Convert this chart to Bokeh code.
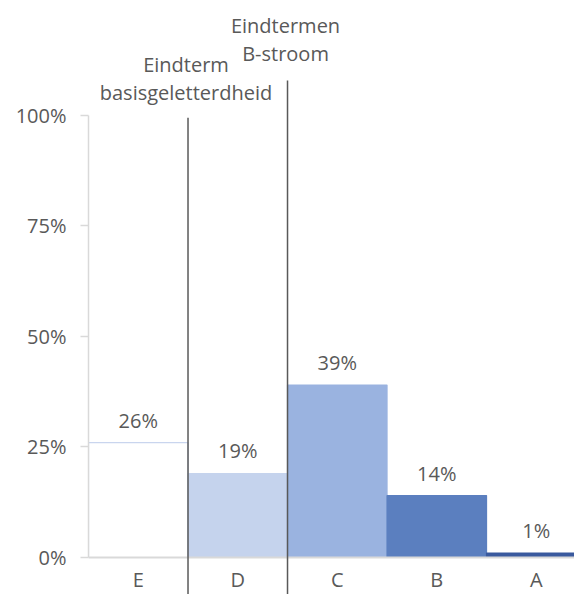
from bokeh.plotting import figure
from bokeh.models import Range1d, LinearAxis, FixedTicker, PrintfTickFormatter, ColumnDataSource
from bokeh.core.properties import value
from bokeh.embed import file_html
from bokeh.resources import INLINE

# ---- data ----
categories = ["E", "D", "C", "B", "A"]
values = [26, 19, 39, 14, 1]
value_labels = ["26%", "19%", "39%", "14%", "1%"]
y_ticks = [0, 25, 50, 75, 100]
divider_positions = [1, 2]          # boundaries E|D and D|C (category index)
divider_tops = [99.5, 107.9]
annot_lines = [["Eindterm", "basisgeletterdheid"], ["Eindtermen", "B-stroom"]]
annot_centers = [[111.5, 105.3], [120.25, 114.1]]

# ---- style ----
FONT = "Open Sans"
TXT = "#595959"
GRID = "#d9d9d9"
fills = ["#ffffff", "#c5d3ed", "#9ab3e0", "#5b7fbf", "#3a5a9e"]
lines = ["#c9d5ee", "#c5d3ed", "#9ab3e0", "#5b7fbf", "#3a5a9e"]
FS = "20px"
LABEL_GAP = 5.1
CAT_Y = -4.9

X1 = 4.884
Y0, Y1 = -8.37, 126.0
p = figure(width=574, height=594, output_backend="svg", toolbar_location=None,
           x_range=Range1d(0, X1), y_range=Range1d(Y0, Y1),
           min_border_left=88, min_border_right=0, min_border_top=0, min_border_bottom=0,
           x_axis_type=None, y_axis_type=None)
p.outline_line_color = None
p.xgrid.visible = False
p.ygrid.visible = False
p.background_fill_color = "white"
p.border_fill_color = "white"

yax = LinearAxis(bounds=(0, 100), ticker=FixedTicker(ticks=y_ticks),
                 formatter=PrintfTickFormatter(format="%d%%"))
yax.axis_line_color = GRID
yax.axis_line_width = 1.5
yax.major_tick_line_color = GRID
yax.major_tick_line_width = 1.5
yax.major_tick_out = 8
yax.major_tick_in = 0
yax.minor_tick_line_color = None
yax.major_label_standoff = 14
yax.major_label_text_font = FONT
yax.major_label_text_font_size = FS
yax.major_label_text_color = TXT
p.add_layout(yax, "left")

xs = [i + 0.5 for i in range(len(categories))]
src = ColumnDataSource(dict(x=xs, top=values, fill=fills, line=lines, lab=value_labels,
                            laby=[v + LABEL_GAP for v in values], cat=categories))

p.vbar(x="x", top="top", bottom=0, width=1.0, source=src, fill_color="fill",
       line_color="line", line_width=1.2)

# baseline
p.segment(x0=[0], y0=[0], x1=[X1], y1=[0], line_color=GRID, line_width=2)

# value labels
p.text(x="x", y="laby", text="lab", source=src, text_align="center", text_baseline="middle",
       text_font=value(FONT), text_font_size=FS, text_color=TXT)

# category labels
p.text(x=xs, y=[CAT_Y] * len(xs), text=categories, text_align="center", text_baseline="middle",
       text_font=value(FONT), text_font_size=FS, text_color=TXT)

# dividers
p.segment(x0=divider_positions, y0=[Y0] * 2, x1=divider_positions, y1=divider_tops,
          line_color="#595959", line_width=1.5)

# annotations
for xpos, texts, cents in zip(divider_positions, annot_lines, annot_centers):
    p.text(x=[xpos - 0.02] * len(texts), y=cents, text=texts, text_align="center",
           text_baseline="middle", text_font=value(FONT), text_font_size=FS, text_color=TXT)

open("out.html", "w").write(file_html(p, INLINE))
